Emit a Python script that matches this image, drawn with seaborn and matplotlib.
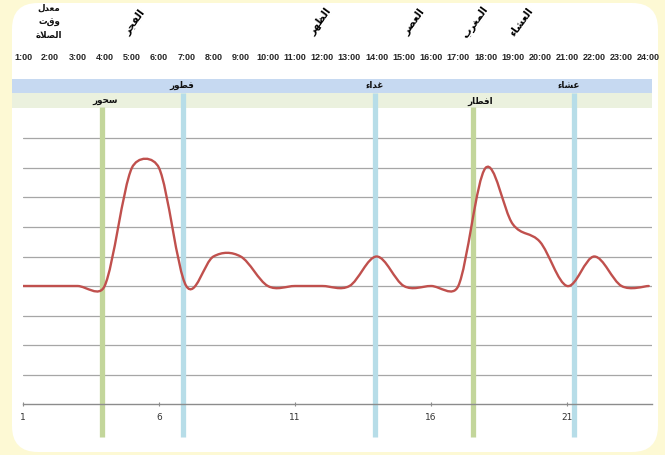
import numpy as np
import matplotlib
matplotlib.use("Agg")
import matplotlib.pyplot as plt
import seaborn as sns
from matplotlib.path import Path
from matplotlib.patches import PathPatch, Rectangle, FancyBboxPatch
from matplotlib.transforms import blended_transform_factory, IdentityTransform

sns.set_theme(style="white")
plt.rcParams['font.family'] = ['DejaVu Sans']

# ---- data ----
hours = list(range(1, 25))
activity = [4, 4, 4, 4, 8, 8, 4, 5, 5, 4, 4, 4,
            4, 5, 4, 4, 4, 8, 6.1, 5.5, 4, 5, 4, 4]
hour_labels = [f"{h}:00" for h in hours]

title_lines = ["معدل", "وقت", "الصلاة"]
prayer_names = ["الفجر", "الظهر", "العصر", "المغرب", "العشاء"]
prayer_pos = [5.12, 11.93, 15.37, 17.62, 19.31]

meal_names = ["سحور", "فطور", "غداء", "افطار", "عشاء"]
meal_time = [3.9, 6.88, 13.94, 17.54, 21.26]
meal_type = ["fast", "meal", "meal", "fast", "meal"]
meal_label_pos = [4.02, 6.85, 13.94, 17.8, 21.07]

# ---- arabic shaping (matplotlib has no bidi / joining) ----
FORMS = {  # isolated, final, initial, medial
    'ا': (0xFE8D, 0xFE8E, None, None), 'ب': (0xFE8F, 0xFE90, 0xFE91, 0xFE92),
    'ة': (0xFE93, 0xFE94, None, None), 'ج': (0xFE9D, 0xFE9E, 0xFE9F, 0xFEA0),
    'ح': (0xFEA1, 0xFEA2, 0xFEA3, 0xFEA4), 'د': (0xFEA9, 0xFEAA, None, None),
    'ر': (0xFEAD, 0xFEAE, None, None), 'س': (0xFEB1, 0xFEB2, 0xFEB3, 0xFEB4),
    'ش': (0xFEB5, 0xFEB6, 0xFEB7, 0xFEB8), 'ص': (0xFEB9, 0xFEBA, 0xFEBB, 0xFEBC),
    'ط': (0xFEC1, 0xFEC2, 0xFEC3, 0xFEC4), 'ظ': (0xFEC5, 0xFEC6, 0xFEC7, 0xFEC8),
    'ع': (0xFEC9, 0xFECA, 0xFECB, 0xFECC), 'غ': (0xFECD, 0xFECE, 0xFECF, 0xFED0),
    'ف': (0xFED1, 0xFED2, 0xFED3, 0xFED4), 'ق': (0xFED5, 0xFED6, 0xFED7, 0xFED8),
    'ل': (0xFEDD, 0xFEDE, 0xFEDF, 0xFEE0), 'م': (0xFEE1, 0xFEE2, 0xFEE3, 0xFEE4),
    'ه': (0xFEE9, 0xFEEA, 0xFEEB, 0xFEEC), 'و': (0xFEED, 0xFEEE, None, None),
    'ء': (0xFE80, None, None, None),
}


def shape(word):
    chars = list(word)
    out = []
    prev_dual = False
    i = 0
    while i < len(chars):
        c = chars[i]
        if c == 'ل' and i + 1 < len(chars) and chars[i + 1] == 'ا':
            out.append(chr(0xFEFC if prev_dual else 0xFEFB))
            prev_dual = False
            i += 2
            continue
        f = FORMS.get(c)
        if f is None:
            out.append(c)
            prev_dual = False
            i += 1
            continue
        joins_prev = prev_dual and f[1] is not None
        nxt = chars[i + 1] if i + 1 < len(chars) else None
        joins_next = (f[2] is not None and nxt in FORMS
                      and FORMS[nxt][1] is not None)
        if joins_prev and joins_next:
            g = f[3]
        elif joins_prev:
            g = f[1]
        elif joins_next:
            g = f[2]
        else:
            g = f[0]
        out.append(chr(g))
        prev_dual = f[2] is not None
        i += 1
    return ''.join(reversed(out))


W, H = 665, 455
fig = plt.figure(figsize=(W / 100, H / 100), dpi=100)
fig.patch.set_facecolor('#fdf9d4')


def fy(py):
    return 1 - py / H


# white rounded card
card = FancyBboxPatch((12, H - 452), 646, 449, boxstyle="round,pad=0,rounding_size=26",
                      transform=IdentityTransform(), facecolor='white',
                      edgecolor='none', zorder=-3)
fig.patches.append(card)
# header bands
fig.patches.append(Rectangle((12 / W, fy(92.5)), 640 / W, 13.5 / H, transform=fig.transFigure,
                             facecolor='#c6d9f1', edgecolor='none', zorder=-2))
fig.patches.append(Rectangle((12 / W, fy(107.5)), 640 / W, 15 / H, transform=fig.transFigure,
                             facecolor='#ebf1de', edgecolor='none', zorder=-2))

ax = fig.add_axes([23 / W, fy(404), (652 - 23) / W, (404 - 109) / H])
ax.patch.set_alpha(0)
ax.set_xlim(1, 24.12)
ax.set_ylim(0, 10)

# horizontal gridlines
ax.set_yticks(range(1, 10))
ax.yaxis.grid(True, color='#a6a6a6', lw=0.9, zorder=0)
ax.tick_params(axis='y', left=False, labelleft=False)
ax.set_xticks([1, 6, 11, 16, 21])
ax.set_xticklabels(['1', '6', '11', '16', '21'], fontsize=6.5, color='#333333')
ax.tick_params(axis='x', bottom=True, length=3, width=0.8, direction='inout',
               color='#8c8c8c', pad=5)
sns.despine(ax=ax, left=True)
ax.spines['bottom'].set_color('#8c8c8c')
ax.spines['bottom'].set_linewidth(1.0)
ax.set_axisbelow(True)

# vertical meal markers
bar_col = {'fast': '#c3d69b', 'meal': '#b7dde8'}
bar_top = {'fast': 10.07, 'meal': 10.54}
for t, kind in zip(meal_time, meal_type):
    ax.vlines(t, -1.12, bar_top[kind], colors=bar_col[kind], lw=3.8, clip_on=False, zorder=2)

# smoothed line, same bezier rule Excel uses for "smoothed line" charts
sx, sy = 27.25, 29.5
P = np.column_stack([np.array(hours, float) * sx, np.array(activity, float) * sy])
n = len(P)
verts = [P[0]]
codes = [Path.MOVETO]
for i in range(n - 1):
    p0 = P[i - 1] if i > 0 else P[i]
    p1, p2 = P[i], P[i + 1]
    p3 = P[i + 2] if i + 2 < n else P[i + 1]
    d02 = np.hypot(*(p2 - p0))
    d12 = np.hypot(*(p2 - p1))
    d13 = np.hypot(*(p3 - p1))
    f0 = 1 / 6 if d02 / 6 < d12 / 2 else d12 / d02 / 2
    f1 = 1 / 6 if d13 / 6 < d12 / 2 else d12 / d13 / 2
    c1 = p1 + (p2 - p0) * f0
    c2 = p2 - (p3 - p1) * f1
    verts += [c1, c2, p2]
    codes += [Path.CURVE4] * 3
verts = np.array(verts) / [sx, sy]
ax.add_patch(PathPatch(Path(verts, codes), fill=False, edgecolor='#c0504d', lw=1.7,
                       capstyle='round', zorder=3))

tr = blended_transform_factory(ax.transData, fig.transFigure)

# hour header
for h, lab in zip(hours, hour_labels):
    ax.text(h, fy(58), lab, transform=tr, ha='center', va='center', fontsize=6.5,
            fontweight='bold', family=['Liberation Sans', 'DejaVu Sans'], color='#262626')

# prayer names
for name, x in zip(prayer_names, prayer_pos):
    ax.text(x, fy(22), shape(name), transform=tr, ha='center', va='center',
            rotation=54, rotation_mode='anchor', fontsize=7.5, fontweight='bold',
            color='black')

# title
for j, line in enumerate(title_lines):
    fig.text(49 / W, fy(8.5 + j * 13.5), shape(line), ha='center', va='center',
             fontsize=6.3, fontweight='bold', color='#111111')

# meal labels in the bands
band_y = {'fast': fy(101), 'meal': fy(85.5)}
for name, x, kind in zip(meal_names, meal_label_pos, meal_type):
    ax.text(x, band_y[kind], shape(name), transform=tr, ha='center', va='center',
            fontsize=6.3, fontweight='bold', color='#111111', zorder=5)

fig.savefig('out.png', dpi=100, facecolor=fig.get_facecolor())
